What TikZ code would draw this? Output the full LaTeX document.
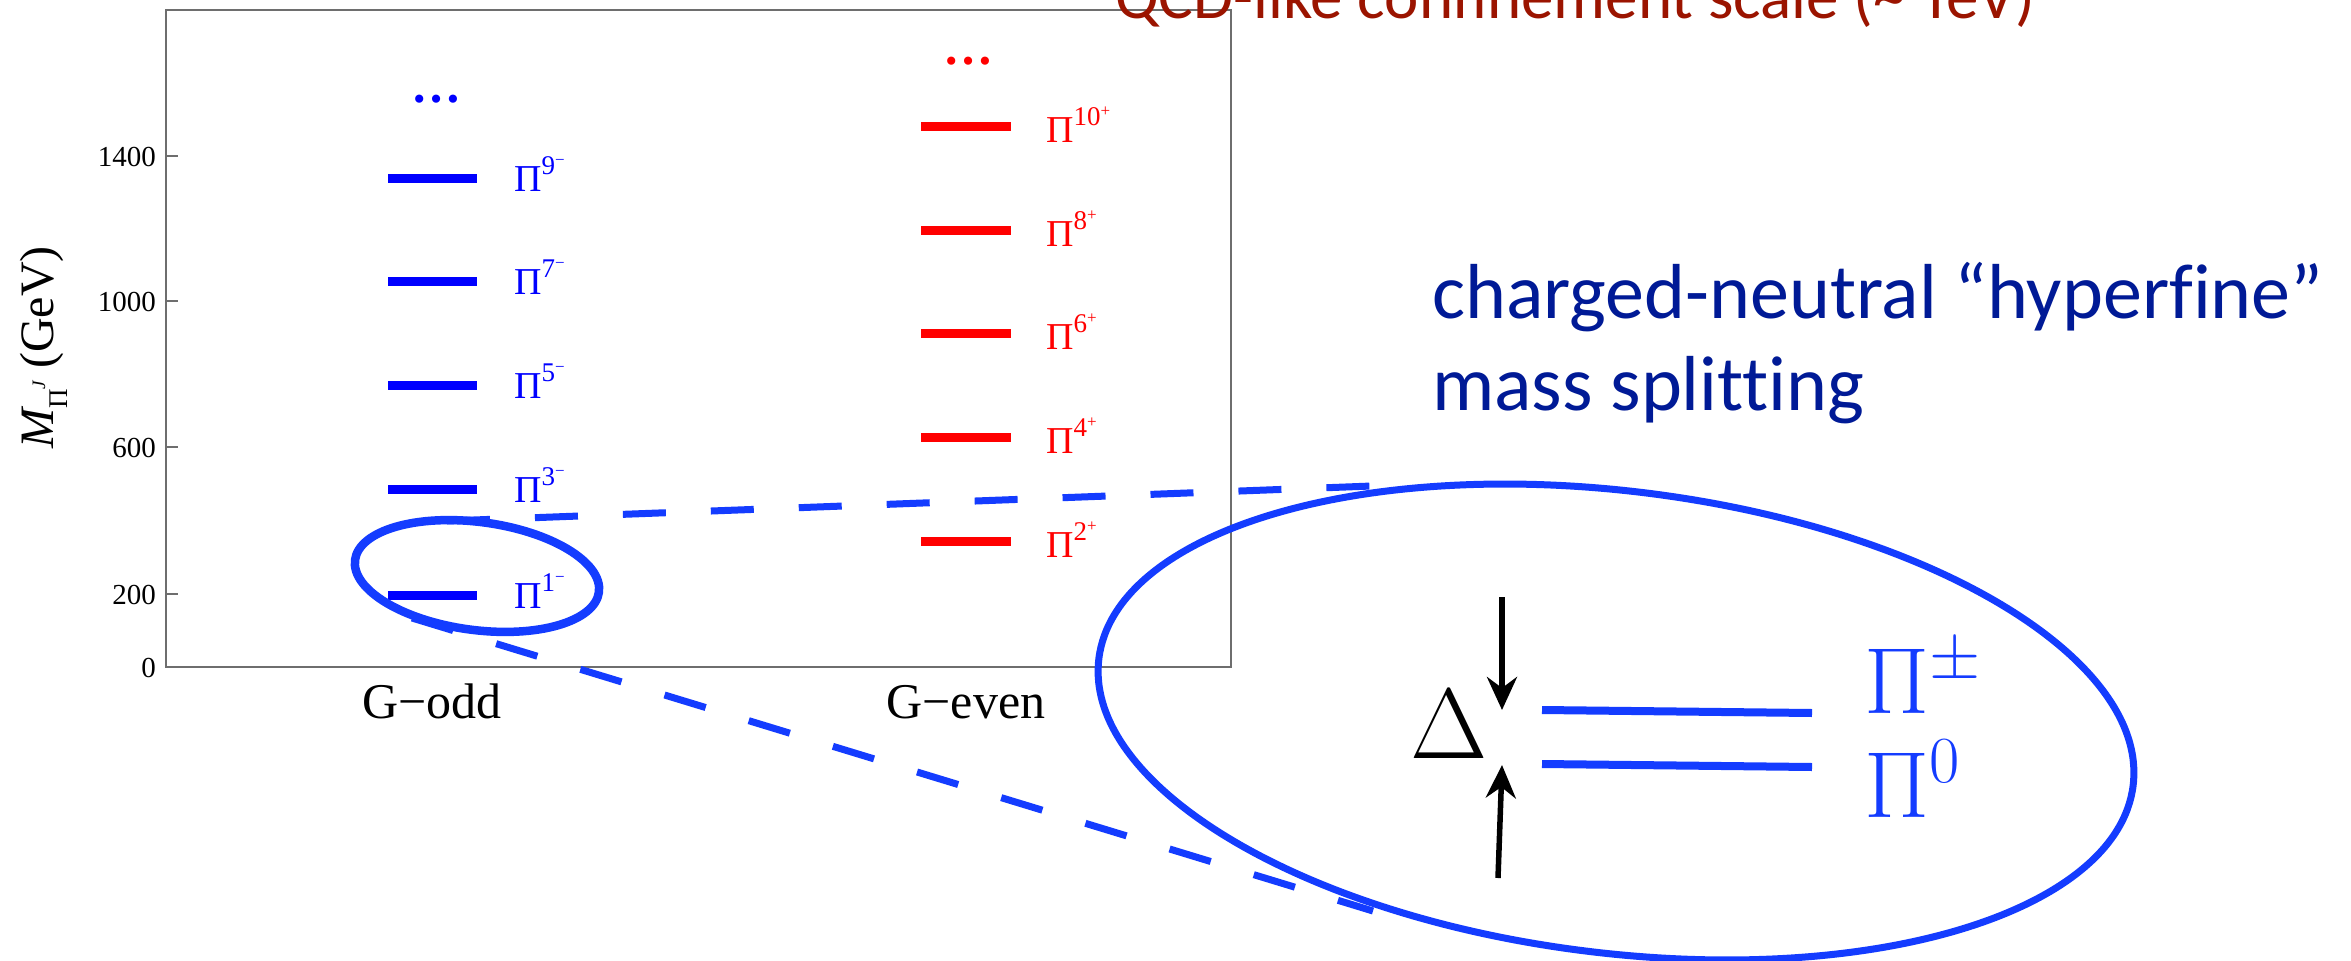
\RequirePackage{fix-cm}
\documentclass[tikz,border=0pt]{standalone}
\usepackage{fontspec}
\usetikzlibrary{arrows.meta}
\newfontfamily\tms{Liberation Serif}
\newfontfamily\gill{Carlito}[Ligatures=NoCommon]
\definecolor{pblue}{RGB}{0,0,255}
\definecolor{pred}{RGB}{255,0,0}
\definecolor{eblue}{RGB}{20,60,255}
\definecolor{tred}{RGB}{155,20,0}
\definecolor{tblue}{RGB}{0,26,150}
\definecolor{fgray}{RGB}{110,110,110}
\newcommand{\fsz}[1]{\fontsize{#1}{#1}\selectfont}
\newcommand{\plab}[2]{{\fsz{38}Π}\raisebox{17pt}{\fsz{27}#1\raisebox{9pt}{\fsz{17}#2}}}
\begin{document}
\begin{tikzpicture}[x=1pt,y=-1pt,
  frame/.style={fgray,line width=1.8pt},
  tick/.style={anchor=base east,inner sep=0pt,font=\tms\fsz{29}},
  oddbar/.style={pblue,line width=9pt},
  evenbar/.style={pred,line width=9pt},
  oddlab/.style={anchor=base west,inner sep=0pt,text=pblue,font=\tms},
  evenlab/.style={anchor=base west,inner sep=0pt,text=pred,font=\tms},
  xlab/.style={anchor=base,inner sep=0pt,font=\tms\fsz{50}},
  zoomline/.style={eblue,line width=7pt,dash pattern=on 43pt off 45pt},
  ring/.style={eblue,line width=7pt},
  gap/.style={-{Stealth[length=33pt,width=30pt,inset=11pt]},line width=5.5pt},
  level/.style={eblue,line width=8pt},
  big/.style={anchor=base west,inner sep=0pt,font=\fsz{94},text=eblue},
  slide/.style={anchor=base west,inner sep=0pt}]
\useasboundingbox (0,0) rectangle (2351,961);
\fill[white] (0,0) rectangle (2351,961);

% frame and axis
\draw[frame] (166,10) rectangle (1231,667);
\foreach \yy in {667,594,447,301,156} \draw[frame] (166,\yy) -- (178,\yy);
\node[tick] (t0) at (156,677.5) {0};
\node[tick] (t200) at (156,604.5) {200};
\node[tick] (t600) at (156,457.5) {600};
\node[tick] (t1000) at (156,311.5) {1000};
\node[tick] (t1400) at (156,166.5) {1400};
\node[rotate=90,anchor=base west,inner sep=0pt,font=\tms\fsz{48}] (ylab) at (53,449)
  {\itshape M\upshape\raisebox{-14pt}{\fsz{27}Π\raisebox{22pt}{\fsz{19}\itshape J}}\fsz{48}\ (GeV)};
\node[xlab] (godd) at (432,718) {G−odd};
\node[xlab] (geven) at (966,718) {G−even};

% levels
\foreach \yy in {595,489,385,281,178} \draw[oddbar] (388,\yy) -- (477,\yy);
\foreach \yy in {541,437,333,230,126} \draw[evenbar] (921,\yy) -- (1011,\yy);
\node[oddlab] (p1) at (514,608.5) {\plab{1}{−}};
\node[oddlab] (p3) at (514,502.5) {\plab{3}{−}};
\node[oddlab] (p5) at (514,398.5) {\plab{5}{−}};
\node[oddlab] (p7) at (514,294.5) {\plab{7}{−}};
\node[oddlab] (p9) at (514,191.5) {\plab{9}{−}};
\node[evenlab] (p2) at (1046,557) {\plab{2}{+}};
\node[evenlab] (p4) at (1046,453) {\plab{4}{+}};
\node[evenlab] (p6) at (1046,349) {\plab{6}{+}};
\node[evenlab] (p8) at (1046,246) {\plab{8}{+}};
\node[evenlab] (p10) at (1046,142) {\plab{10}{+}};
\node[anchor=base,inner sep=0pt,text=pblue,font=\tms\bfseries\fsz{50}] (dodd) at (436,102) {…};
\node[anchor=base,inner sep=0pt,text=pred,font=\tms\bfseries\fsz{50}] (deven) at (968,64) {…};

% slide texts
\node[slide,text=tred,font=\gill\fsz{65}] (title) at (1115,18) {QCD-like confinement scale (\textasciitilde\ TeV)};
\node[slide,text=tblue,font=\gill\fsz{78}] (hf1) at (1432,318) {charged-neutral “hyperfine”};
\node[slide,text=tblue,font=\gill\fsz{78}] (hf2) at (1432,410) {mass splitting};

% zoom ellipses
\draw[ring,line width=8.5pt,rotate around={-7.5:(477,576)}] (477,576) ellipse (123 and 54);
\draw[ring,rotate around={-7:(1616,722)}] (1616,722) ellipse (521 and 231);
\coordinate (u1) at (447,521);
\coordinate (u2) at (1372,486);
\coordinate (d1) at (412,618);
\coordinate (d2) at (1373,911);
\draw[zoomline] (u1) -- (u2);
\draw[zoomline] (d1) -- (d2);

% inset
\node[anchor=base west,inner sep=0pt,font=\fsz{100}] (delta) at (1410,758) {$\Delta$};
\coordinate (a1s) at (1502,597);
\coordinate (a1e) at (1502,710);
\coordinate (a2s) at (1498,878);
\coordinate (a2e) at (1502,765);
\draw[gap] (a1s) -- (a1e);
\draw[gap] (a2s) -- (a2e);
\coordinate (lc1) at (1542,710);
\coordinate (lc2) at (1812,713);
\coordinate (ln1) at (1542,764);
\coordinate (ln2) at (1812,767);
\draw[level] (lc1) -- (lc2);
\draw[level] (ln1) -- (ln2);
\node[big] (pipm) at (1864,713) {$\Pi^{\pm}$};
\node[big] (pi0) at (1864,817) {$\Pi^{0}$};
\end{tikzpicture}
\end{document}
